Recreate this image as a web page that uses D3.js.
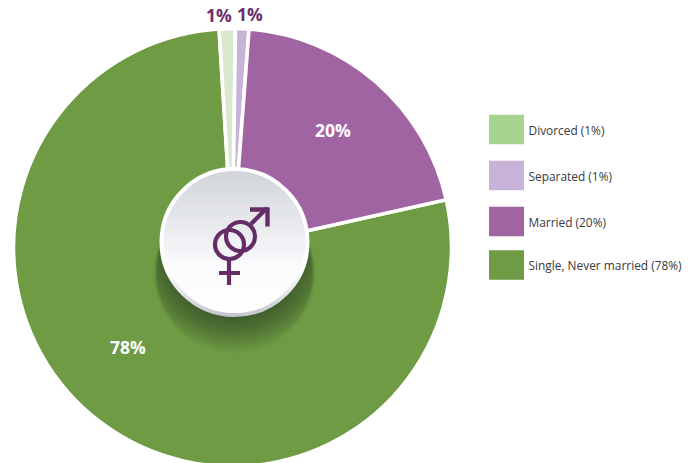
<!DOCTYPE html>
<html><head><meta charset="utf-8">
<script src="https://cdn.jsdelivr.net/npm/d3@7"></script>
<style>html,body{margin:0;padding:0;background:#fff}svg{display:block}</style>
</head><body><svg id="c" width="699" height="463"></svg>
<script>
const categories = ["Single, Never married","Divorced","Separated","Married"];
const values = [78.3,1.2,1.0,20.5];
const sliceColors = ["#6e9b43","#d9e8cf","#c8b3d8","#a164a3"];
const legendOrder = ["Divorced","Separated","Married","Single, Never married"];
const legendValues = [1,1,20,78];
const legendColors = ["#a6d48f","#c8b3d8","#a164a3","#6e9b43"];

const svg = d3.select("#c");
const cx=232.5, cy=247.5, R=219;
const defs = svg.append("defs");
const g1 = defs.append("linearGradient").attr("id","disc").attr("x1",0).attr("y1",0).attr("x2",0).attr("y2",1);
[[0,"#d0d3d8"],[0.35,"#e6e8ec"],[0.65,"#fafafc"],[1,"#ffffff"]].forEach(s=>g1.append("stop").attr("offset",s[0]).attr("stop-color",s[1]));
const g2 = defs.append("linearGradient").attr("id","rim").attr("x1",0).attr("y1",0).attr("x2",0).attr("y2",1);
[[0,"#ffffff"],[0.7,"#ffffff"],[1,"#c6c6d2"]].forEach(s=>g2.append("stop").attr("offset",s[0]).attr("stop-color",s[1]));
const g3 = defs.append("radialGradient").attr("id","shadow").attr("cx",0.5).attr("cy",0.35).attr("r",0.66);
[[0,"#3e5a2a",1],[0.62,"#3e5a2a",1],[0.8,"#3e5a2a",0.6],[1,"#3e5a2a",0]].forEach(s=>g3.append("stop").attr("offset",s[0]).attr("stop-color",s[1]).attr("stop-opacity",s[2]));
defs.append("filter").attr("id","soft").append("feGaussianBlur").attr("stdDeviation",1.2);

const rot = 77.4*Math.PI/180;
const arcs = d3.pie().sort(null).startAngle(rot).endAngle(rot+2*Math.PI)(values);
const arc = d3.arc().innerRadius(0).outerRadius(R);
const pg = svg.append("g").attr("transform",`translate(${cx},${cy})`);
pg.selectAll("path").data(arcs).join("path").attr("d",arc)
  .attr("fill",(d,i)=>sliceColors[i]).attr("stroke","#fff").attr("stroke-width",3.6).attr("stroke-linejoin","miter");

const font = "'Open Sans',sans-serif";
const texts = [{t:"78%",x:128,y:348,c:"#fff"},{t:"20%",x:333,y:131,c:"#fff"},{t:"1%",x:219,y:15.5,c:"#6b2f6b"},{t:"1%",x:250,y:15,c:"#6b2f6b"}];
svg.selectAll("text.v").data(texts).join("text").attr("class","v")
  .attr("x",d=>d.x).attr("y",d=>d.y).attr("dy","0.35em").attr("text-anchor","middle")
  .attr("font-family",font).attr("font-weight",700).attr("font-size",17.5).attr("fill",d=>d.c).text(d=>d.t);

const dx=234.5, dy=242;
svg.append("circle").attr("cx",dx).attr("cy",273).attr("r",79).attr("fill","url(#shadow)").attr("filter","url(#soft)");
svg.append("circle").attr("cx",dx).attr("cy",dy).attr("r",73).attr("fill","url(#disc)").attr("stroke","url(#rim)").attr("stroke-width",4);

const sym = svg.append("g").attr("fill","none").attr("stroke","#652d68").attr("stroke-width",4.2);
sym.append("circle").attr("cx",229.5).attr("cy",244.5).attr("r",14.5);
sym.append("circle").attr("cx",240.5).attr("cy",236.5).attr("r",14.5);
sym.append("path").attr("d","M229,259V285M219,273H240");
sym.append("path").attr("d","M251,224L267,208");
sym.append("path").attr("d","M250,209.5H267.5V226.5").attr("stroke-width",4.4);

const ly = d3.scaleOrdinal().domain(legendOrder).range([129.5,175.5,221.5,265]);
const leg = svg.append("g");
leg.selectAll("rect").data(legendOrder).join("rect")
  .attr("x",489).attr("y",d=>ly(d)-14.75).attr("width",35).attr("height",29.5)
  .attr("fill",(d,i)=>legendColors[i]);
leg.selectAll("text").data(legendOrder).join("text")
  .attr("x",528.5).attr("y",d=>ly(d)+1).attr("dy","0.35em")
  .attr("font-family",font).attr("font-size",11.9).attr("fill","#3a3a3c")
  .text((d,i)=>`${d} (${legendValues[i]}%)`);
</script></body></html>
